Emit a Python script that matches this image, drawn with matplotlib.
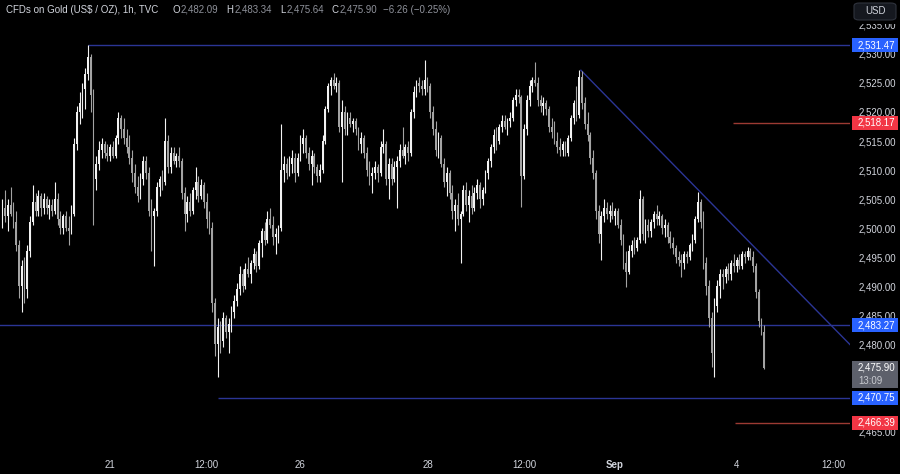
import matplotlib
matplotlib.use('Agg')
import matplotlib.pyplot as plt
import matplotlib.transforms as mtransforms
from matplotlib.patches import FancyBboxPatch, Rectangle
import numpy as np

plt.rcParams['font.family'] = ['Liberation Sans', 'DejaVu Sans']

# hourly candles (open, high, low, close), one list per trading day
aug20 = [(2502.5, 2505, 2500, 2503.5), (2503.5, 2506.5, 2501, 2502), (2502, 2505, 2499.5, 2504),
         (2504, 2507, 2502, 2502.5), (2502.5, 2504.5, 2500, 2501), (2501, 2503, 2496, 2497),
         (2497, 2498, 2488, 2490), (2490, 2494.5, 2485.5, 2493.5), (2493.5, 2495, 2487, 2489.5),
         (2489.5, 2497, 2488, 2496), (2496, 2502, 2495, 2501), (2501, 2507.5, 2500.5, 2504.5),
         (2504.5, 2506, 2502, 2503), (2503, 2506.5, 2502, 2505.5), (2505.5, 2506, 2502, 2503.5),
         (2503.5, 2506, 2502.5, 2505), (2505, 2505.5, 2502.5, 2503.5), (2503.5, 2505, 2501.5, 2504),
         (2504, 2505, 2502, 2503), (2503, 2508, 2502.5, 2505), (2505, 2506, 2500.5, 2501.5),
         (2501.5, 2503, 2499, 2500), (2500, 2502.5, 2499, 2502), (2502, 2503, 2499.5, 2500),
         (2500, 2502, 2497, 2499.5), (2499.5, 2504, 2499, 2502.5), (2502.5, 2515.5, 2502, 2514.5),
         (2514.5, 2521, 2513.5, 2520), (2520, 2523.5, 2518, 2521.5), (2521.5, 2525, 2519, 2524),
         (2524, 2527.5, 2520.5, 2526.5), (2526.5, 2531.47, 2525.5, 2529.5), (2529.5, 2530, 2520, 2523),
         (2523, 2524, 2500.5, 2508.5), (2508.5, 2512.5, 2506.5, 2511), (2511, 2515, 2510, 2513.5),
         (2513.5, 2515.5, 2512, 2514.5), (2514.5, 2515, 2512, 2513), (2513, 2514.5, 2511.5, 2512.5)]
aug21 = [(2512.5, 2514.5, 2511.5, 2514), (2514, 2515, 2512, 2512.5), (2512.5, 2516, 2512, 2515.5),
         (2515.5, 2520, 2514.5, 2519), (2519, 2519.5, 2515.5, 2517), (2517, 2519, 2514.5, 2515.5),
         (2515.5, 2517, 2513, 2514), (2514, 2516, 2511, 2512), (2512, 2513.5, 2508, 2509.5),
         (2509.5, 2511, 2506, 2507), (2507, 2509, 2504.5, 2505.5), (2505.5, 2509.5, 2505, 2508.5),
         (2508.5, 2512.5, 2507.5, 2511.5), (2511.5, 2512.5, 2508.5, 2509.5), (2509.5, 2510.5, 2502, 2503),
         (2503, 2505, 2496, 2502), (2502, 2503.5, 2493.5, 2503), (2503, 2508, 2502, 2507),
         (2507, 2509, 2505.5, 2508.5), (2508.5, 2510, 2506.5, 2508), (2508, 2519, 2507.5, 2515),
         (2515, 2516, 2509.5, 2510.5), (2510.5, 2514, 2509.5, 2513)]
aug22 = [(2513, 2514, 2511, 2511.5), (2511.5, 2513, 2510.5, 2512.5), (2512.5, 2514, 2510.5, 2511.5),
         (2511.5, 2512, 2505, 2506), (2506, 2507, 2499.5, 2502.5), (2502.5, 2505.5, 2501, 2504.5),
         (2504.5, 2506, 2502, 2503), (2503, 2507, 2502.5, 2506.5), (2506.5, 2510.5, 2505, 2508),
         (2508, 2509, 2504.5, 2505.5), (2505.5, 2508.5, 2505, 2507.5), (2507.5, 2508, 2503.5, 2504.5),
         (2504.5, 2506, 2500, 2501.5), (2501.5, 2503, 2499, 2500), (2500, 2501, 2485.5, 2487),
         (2487, 2488, 2478, 2480), (2480, 2484.5, 2474.3, 2483), (2483, 2484, 2478.5, 2480.5),
         (2480.5, 2485.5, 2479.5, 2484.5), (2484.5, 2485, 2481, 2482), (2482, 2484.5, 2478.5, 2483.5),
         (2483.5, 2486.5, 2482, 2485.5), (2485.5, 2488.5, 2484.5, 2487.5)]
aug23 = [(2487.5, 2490.5, 2486.5, 2489.5), (2489.5, 2493.5, 2488.5, 2492), (2492, 2493, 2489, 2490),
         (2490, 2494, 2489.5, 2493), (2493, 2495, 2491.5, 2492), (2492, 2494.5, 2490.5, 2494),
         (2494, 2496.5, 2493, 2495.5), (2495.5, 2496, 2492.5, 2493.5), (2493.5, 2498, 2493, 2497.5),
         (2497.5, 2500, 2495, 2499.5), (2499.5, 2501, 2497, 2498), (2498, 2503, 2497.5, 2501.5),
         (2501.5, 2503.5, 2500, 2500.5), (2500.5, 2502, 2497, 2498.5), (2498.5, 2500, 2495.5, 2499),
         (2499, 2500.5, 2497.5, 2500), (2500, 2518, 2499.5, 2510), (2510, 2512.5, 2508, 2511),
         (2511, 2512, 2508.5, 2509.5), (2509.5, 2512.5, 2509, 2511), (2511, 2513.5, 2509.5, 2512),
         (2512, 2513, 2508, 2509.5), (2509.5, 2513, 2509, 2512)]
aug26 = [(2512, 2516, 2511.5, 2514.5), (2514.5, 2517, 2513, 2515.5), (2515.5, 2516, 2512, 2513),
         (2513, 2514, 2510, 2511), (2511, 2513.5, 2507.5, 2512.5), (2512.5, 2513, 2509.5, 2510.5),
         (2510.5, 2511, 2508, 2509), (2509, 2511, 2508, 2510), (2510, 2516, 2509.5, 2515),
         (2515, 2521, 2514.5, 2520.5), (2520.5, 2525, 2520, 2524.5), (2524.5, 2526, 2523, 2525.5),
         (2525.5, 2526.7, 2524, 2524.5), (2524.5, 2526, 2523.5, 2525), (2525, 2525.5, 2516.5, 2517.5),
         (2517.5, 2522, 2508, 2520), (2520, 2521, 2516, 2517), (2517, 2520, 2516, 2519),
         (2519, 2520, 2517.5, 2518), (2518, 2519, 2516.5, 2518.5), (2518.5, 2519, 2516, 2517),
         (2517, 2517.5, 2513.5, 2514.5), (2514.5, 2516.5, 2513, 2515.5)]
aug27 = [(2515.5, 2516, 2512, 2513), (2513, 2514, 2509, 2510), (2510, 2511.5, 2507.5, 2509),
         (2509, 2510.5, 2506, 2509.5), (2509.5, 2511.5, 2508.5, 2510.5), (2510.5, 2511, 2508, 2509.5),
         (2509.5, 2515, 2509, 2514), (2514, 2517, 2513, 2514.5), (2514.5, 2515, 2507.5, 2508.5),
         (2508.5, 2512, 2505, 2511), (2511, 2512, 2507.5, 2508.5), (2508.5, 2511.5, 2508, 2510.5),
         (2510.5, 2512.5, 2503.5, 2511.5), (2511.5, 2514.5, 2510.5, 2513.5), (2513.5, 2517.5, 2512, 2512.5),
         (2512.5, 2514.5, 2511, 2514), (2514, 2515, 2511.5, 2513), (2513, 2520.5, 2512.5, 2520),
         (2520, 2524.5, 2519, 2523.5), (2523.5, 2525.5, 2522.5, 2525), (2525, 2526, 2523.5, 2524.5),
         (2524.5, 2525.5, 2523, 2524), (2524, 2529, 2523, 2525.5)]
aug28 = [(2525.5, 2526, 2523.5, 2524.5), (2524.5, 2525, 2519, 2520), (2520, 2521, 2516, 2517),
         (2517, 2518.5, 2512.5, 2513.5), (2513.5, 2516.5, 2512, 2515.5), (2515.5, 2516, 2510.5, 2511),
         (2511, 2512, 2507, 2508), (2508, 2510.5, 2505.5, 2509.5), (2509.5, 2510, 2505, 2506),
         (2506, 2507.5, 2501.5, 2503), (2503, 2505, 2499.5, 2504), (2504, 2506, 2500.5, 2501.5),
         (2501.5, 2503, 2494, 2502.5), (2502.5, 2507.5, 2502, 2506.5), (2506.5, 2508, 2503, 2504),
         (2504, 2506.5, 2501, 2505.5), (2505.5, 2507.5, 2502.5, 2503.5), (2503.5, 2507, 2503, 2506),
         (2506, 2508.5, 2505, 2507.5), (2507.5, 2508, 2503.5, 2505), (2505, 2507, 2504, 2506.5),
         (2506.5, 2510, 2506, 2509.5), (2509.5, 2512, 2508.5, 2511.5)]
aug29 = [(2511.5, 2514.5, 2510.5, 2514), (2514, 2517, 2513, 2516), (2516, 2517.5, 2513.5, 2515),
         (2515, 2518, 2514.5, 2517.5), (2517.5, 2519.5, 2516.5, 2518.5), (2518.5, 2519.5, 2517, 2517.5),
         (2517.5, 2519, 2516, 2518.5), (2518.5, 2520, 2517.5, 2519), (2519, 2522.5, 2518.5, 2522),
         (2522, 2524, 2521, 2523), (2523, 2524, 2521.5, 2522.5), (2522.5, 2523, 2503.6, 2509),
         (2509, 2518, 2508.5, 2517), (2517, 2523, 2516, 2522), (2522, 2525.5, 2521, 2524.5),
         (2524.5, 2526, 2523.5, 2525.5), (2525.5, 2528.6, 2524.5, 2525), (2525, 2526, 2521, 2522),
         (2522, 2523, 2520, 2521), (2521, 2522.5, 2519.5, 2521.5), (2521.5, 2522, 2519.5, 2520.5),
         (2520.5, 2521, 2516.5, 2517.5), (2517.5, 2519, 2515.5, 2516.5)]
aug30 = [(2516.5, 2518.5, 2514.5, 2515), (2515, 2516.5, 2513, 2514), (2514, 2515.5, 2512.5, 2513.5),
         (2513.5, 2515, 2512.5, 2514.5), (2514.5, 2515, 2512.5, 2513), (2513, 2516, 2512.5, 2515.5),
         (2515.5, 2519.5, 2515, 2519), (2519, 2522, 2518, 2521.5), (2521.5, 2524.5, 2518.5, 2519.5),
         (2519.5, 2527.2, 2519, 2526), (2526, 2527, 2520.5, 2521.5), (2521.5, 2522.5, 2517, 2518),
         (2518, 2520, 2515, 2516), (2516, 2516.5, 2511, 2512), (2512, 2513.5, 2508.5, 2509.5),
         (2509.5, 2510, 2501.5, 2503), (2503, 2504, 2497.5, 2499), (2499, 2503, 2494.5, 2502),
         (2502, 2505, 2501, 2503.5), (2503.5, 2504.5, 2501.5, 2502.5), (2502.5, 2504, 2501, 2503),
         (2503, 2504.5, 2501.5, 2502)]
sep2 = [(2502, 2503.5, 2500.5, 2503), (2503, 2503.5, 2500, 2500.5), (2500.5, 2501.5, 2497, 2498),
        (2498, 2499, 2493, 2494), (2494, 2496, 2489.8, 2492.5), (2492.5, 2497, 2492, 2496),
        (2496, 2498, 2495, 2497), (2497, 2498.5, 2495.5, 2496.5), (2496.5, 2498.5, 2496, 2498),
        (2498, 2506.5, 2497.5, 2505), (2505, 2505.5, 2498, 2499), (2499, 2501.5, 2497.5, 2500.5),
        (2500.5, 2501.5, 2498.5, 2499.5), (2499.5, 2501.5, 2498.5, 2501), (2501, 2503, 2500, 2502.5),
        (2502.5, 2504, 2500.5, 2501.5), (2501.5, 2503, 2500.5, 2502), (2502, 2502.5, 2499, 2500),
        (2500, 2501.5, 2498.5, 2500.5), (2500.5, 2501, 2497.5, 2498.5), (2498.5, 2499.5, 2496.5, 2497.5),
        (2497.5, 2498.5, 2495.5, 2496.5)]
sep3 = [(2496.5, 2497, 2494, 2495), (2495, 2496, 2493.5, 2494.5), (2494.5, 2495.5, 2491.5, 2494),
        (2494, 2496, 2493, 2495.5), (2495.5, 2496, 2494, 2495), (2495, 2497.5, 2494.5, 2497),
        (2497, 2499, 2496, 2498), (2498, 2502, 2497.5, 2501.5), (2501.5, 2506.2, 2501, 2504.5),
        (2504.5, 2505, 2500, 2501), (2501, 2503, 2493, 2494), (2494, 2495, 2488.5, 2490),
        (2490, 2491, 2483, 2484.5), (2484.5, 2485.5, 2476, 2478.5), (2478.5, 2488, 2474.3, 2486.5),
        (2486.5, 2491, 2485.5, 2490), (2490, 2493, 2488, 2492), (2492, 2493, 2489.5, 2491.5),
        (2491.5, 2493.5, 2490.5, 2493), (2493, 2494, 2491, 2492), (2492, 2494.5, 2491, 2494),
        (2494, 2495.5, 2492.5, 2493.5)]
sep4 = [(2493.5, 2495, 2492.5, 2494.5), (2494.5, 2495.5, 2493, 2493.5), (2493.5, 2496, 2493, 2495.5),
        (2495.5, 2496, 2494, 2495), (2495, 2496.8, 2494.5, 2496), (2496, 2496.5, 2494.5, 2495),
        (2495, 2496, 2492.5, 2493.5), (2493.5, 2494, 2488, 2489), (2489, 2489.5, 2483, 2484),
        (2484, 2484.5, 2481.5, 2482.09), (2482.09, 2483.34, 2475.64, 2475.90)]

# time axis labels (candle index)
tick_pos = [39, 74, 108, 154, 189, 222, 266, 301]
tick_labels = ['21', '12:00', '26', '28', '12:00', 'Sep', '4', '12:00']

# price scale labels, the ones hidden behind tags are left blank
price_ticks = [2465, 2470, 2475, 2480, 2485, 2490, 2495, 2500, 2505, 2510, 2515, 2520,
               2525, 2530, 2535]
hidden_ticks = [2470, 2475]

# drawn levels
top_level, top_start = 2531.47, 31
mid_level = 2483.27
low_level, low_start = 2470.75, 78
red_levels = [2518.17, 2466.39]
red_start = [264.7, 265.4]
trend_x = [209.6, 307.5]
trend_y = [2527.2, 2479.7]
last_price = 2475.90
countdown = '13:09'
change_text = '\u22126.26 (\u22120.25%)'

candles = np.array(aug20 + aug21 + aug22 + aug23 + aug26 + aug27 + aug28 + aug29 +
                   aug30 + sep2 + sep3 + sep4)
o, h, l, c = candles.T
x = np.arange(len(candles))

bg = '#000000'
txt = '#d1d4dc'
val_col = '#8f929b'
blue_line = '#2b3595'
red_line = '#9c3a33'

fig = plt.figure(figsize=(9, 4.74), dpi=100, facecolor=bg)
ax = fig.add_axes([0, 26 / 474, 850 / 900, 448 / 474])
ax.set_facecolor(bg)

up = c >= o
cols = np.where(up, '#f2f2f2', '#a3a3a3')
ax.vlines(x, l, h, colors=cols, linewidth=0.8, zorder=3)
body = np.maximum(np.abs(c - o), 0.15)
ax.bar(x, body, bottom=np.minimum(o, c), width=0.64, color=cols, linewidth=0, zorder=4)

xmax = 307.1
ax.hlines(top_level, top_start, xmax, color=blue_line, lw=1, zorder=2)
ax.axhline(mid_level, color=blue_line, lw=1, zorder=2)
ax.hlines(low_level, low_start, xmax, color=blue_line, lw=1, zorder=2)
for lv, st in zip(red_levels, red_start):
    ax.hlines(lv, st, xmax, color=red_line, lw=1, zorder=2)
ax.plot(trend_x, trend_y, color=blue_line, lw=1, zorder=2)

ax.set_xlim(-0.87, xmax)
ax.set_ylim(2462.07, 2539.31)

for s in ax.spines.values():
    s.set_visible(False)

ax.yaxis.tick_right()
ax.set_yticks(price_ticks)
ax.set_yticklabels(['' if v in hidden_ticks else f'{v:,.2f}' for v in price_ticks])
ax.tick_params(axis='y', length=0, pad=6, labelsize=7, labelcolor=txt)
ax.set_xticks(tick_pos)
ax.set_xticklabels(tick_labels)
ax.tick_params(axis='x', length=0, pad=9, labelsize=7, labelcolor=txt)
for t in ax.get_xticklabels():
    if t.get_text() == 'Sep':
        t.set_fontweight('bold')

# price tags on the scale: fixed size boxes (46 x 14 px)
trans = mtransforms.blended_transform_factory(ax.transAxes, ax.transData)
px_per_unit = 448 / (2539.31 - 2462.07)
tag_h = 14 / px_per_unit
tags = [(top_level, '#2962ff'), (red_levels[0], '#f23645'), (mid_level, '#2962ff'),
        (low_level, '#2962ff'), (red_levels[1], '#f23645')]
for lv, col in tags:
    ax.add_patch(Rectangle((852 / 850, lv - tag_h / 2), 46 / 850, tag_h, transform=trans,
                           fc=col, ec='none', clip_on=False, zorder=9))
    ax.text(876 / 850, lv, f'{lv:,.2f}', transform=trans, ha='center', va='center',
            fontsize=7, color='white', clip_on=False, zorder=10)

# last price + countdown
fig.patches.append(Rectangle((852 / 900, 1 - 388 / 474), 46 / 900, 27 / 474,
                             transform=fig.transFigure, fc='#5d606b', ec='none', zorder=5))
fig.text(876 / 900, 1 - 368 / 474, f'{last_price:,.2f}', ha='center', va='center',
         fontsize=7, color='white', zorder=6)
fig.text(858 / 900, 1 - 381 / 474, countdown, ha='left', va='center',
         fontsize=7, color='#c8cad0', zorder=6)

# currency button, sitting on a black strip that hides the top of the scale
fig.patches.append(Rectangle((850 / 900, 1 - 24 / 474), 50 / 900, 24 / 474,
                             transform=fig.transFigure, fc=bg, ec='none', zorder=4))
fig.patches.append(FancyBboxPatch((854 / 900, 1 - 20 / 474), 42 / 900, 17 / 474,
                                  boxstyle='round,pad=0,rounding_size=0.006',
                                  transform=fig.transFigure, fc='#15181f', ec='#2f333d',
                                  lw=0.8, zorder=5))
fig.text(875 / 900, 1 - 11 / 474, 'USD', ha='center', va='center', fontsize=7,
         color=txt, zorder=6)

# legend line, laid out piece by piece
ty = 1 - 10 / 474
pieces = [('CFDs on Gold (US$ / OZ), 1h, TVC', txt, 14),
          ('O', txt, 1), (f'{o[-1]:,.2f}', val_col, 8),
          ('H', txt, 1), (f'{h[-1]:,.2f}', val_col, 8),
          ('L', txt, 1), (f'{l[-1]:,.2f}', val_col, 8),
          ('C', txt, 1), (f'{c[-1]:,.2f}', val_col, 5),
          (change_text, val_col, 0)]
renderer = fig.canvas.get_renderer()
xpos = 6
for s, col, gap in pieces:
    t = fig.text(xpos / 900, ty, s, ha='left', va='center', fontsize=7, color=col)
    xpos += t.get_window_extent(renderer).width + gap

fig.savefig('out.png', dpi=100, facecolor=bg)
